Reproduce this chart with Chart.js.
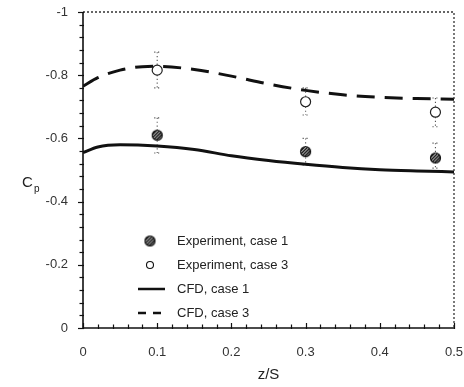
<!DOCTYPE html>
<html>
<head>
<meta charset="utf-8">
<script src="https://cdn.jsdelivr.net/npm/chart.js@4.4.0/dist/chart.umd.min.js"></script>
<style>
  html, body { margin: 0; padding: 0; background: #fff; }
  #wrap { width: 464px; height: 387px; position: relative; }
</style>
</head>
<body>
<div id="wrap"><canvas id="cpChart" width="464" height="387"></canvas></div>
<script>
// CFD curves
const cfd1X = [0, 0.02, 0.05, 0.1, 0.15, 0.2, 0.25, 0.3, 0.35, 0.4, 0.45, 0.5];
const cfd1Y = [-0.555, -0.573, -0.58, -0.576, -0.565, -0.545, -0.53, -0.518, -0.508, -0.501, -0.497, -0.494];
const cfd3X = [0, 0.02, 0.05, 0.08, 0.1, 0.15, 0.2, 0.25, 0.3, 0.35, 0.4, 0.45, 0.5];
const cfd3Y = [-0.765, -0.792, -0.816, -0.827, -0.828, -0.818, -0.797, -0.772, -0.752, -0.738, -0.730, -0.726, -0.724];

// experiments
const expX = [0.1, 0.3, 0.475];
const exp1Y = [-0.61, -0.558, -0.538];
const exp1Top = [-0.665, -0.60, -0.585];
const exp1Bot = [-0.554, -0.516, -0.506];
const exp3Y = [-0.816, -0.716, -0.683];
const exp3Top = [-0.873, -0.76, -0.728];
const exp3Bot = [-0.76, -0.674, -0.637];

const xTicks = [0, 0.1, 0.2, 0.3, 0.4, 0.5];
const yTicks = [-1, -0.8, -0.6, -0.4, -0.2, 0];
const legendLabels = ['Experiment, case 1', 'Experiment, case 3', 'CFD, case 1', 'CFD, case 3'];

const FONT = '"Liberation Sans", Arial, sans-serif';

// hatched marker for case 1
function hatchedMarker() {
    const c = document.createElement('canvas');
    c.width = 13; c.height = 13;
    const g = c.getContext('2d');
    g.save();
    g.beginPath();
    g.arc(6.5, 6.5, 5, 0, Math.PI * 2);
    g.fillStyle = '#fff';
    g.fill();
    g.clip();
    g.strokeStyle = '#111';
    g.lineWidth = 1.6;
    for (let k = -12; k <= 12; k += 3.2) {
        g.beginPath();
        g.moveTo(k, 13);
        g.lineTo(k + 13, 0);
        g.stroke();
    }
    g.restore();
    g.beginPath();
    g.arc(6.5, 6.5, 5, 0, Math.PI * 2);
    g.strokeStyle = '#111';
    g.lineWidth = 1.2;
    g.stroke();
    return c;
}
const hatch = hatchedMarker();

const toPts = (xs, ys) => xs.map((x, i) => ({ x: x, y: ys[i] }));

// dotted error bars, frame, minor ticks, legend and titles
const decorPlugin = {
    id: 'decor',
    beforeDatasetsDraw(chart) {
        const ctx = chart.ctx;
        const xs = chart.scales.x, ys = chart.scales.y;
        ctx.save();
        ctx.strokeStyle = '#555';
        ctx.lineWidth = 1.1;
        ctx.setLineDash([1.2, 2.6]);
        [[exp1Top, exp1Bot], [exp3Top, exp3Bot]].forEach(([top, bot]) => {
            expX.forEach((x, i) => {
                const px = xs.getPixelForValue(x);
                const y1 = ys.getPixelForValue(top[i]);
                const y2 = ys.getPixelForValue(bot[i]);
                ctx.beginPath();
                ctx.moveTo(px, y1);
                ctx.lineTo(px, y2);
                ctx.stroke();
                [y1, y2].forEach(yy => {
                    ctx.beginPath();
                    ctx.moveTo(px - 3, yy);
                    ctx.lineTo(px + 3, yy);
                    ctx.stroke();
                });
            });
        });
        ctx.restore();
    },
    afterDraw(chart) {
        const ctx = chart.ctx;
        const a = chart.chartArea;
        const xs = chart.scales.x, ys = chart.scales.y;
        ctx.save();
        // dotted top and right frame
        ctx.strokeStyle = '#333';
        ctx.lineWidth = 1.3;
        ctx.setLineDash([2, 2]);
        ctx.beginPath();
        ctx.moveTo(a.left, a.top);
        ctx.lineTo(a.right, a.top);
        ctx.lineTo(a.right, a.bottom);
        ctx.stroke();
        ctx.setLineDash([]);
        // solid left and bottom axes
        ctx.strokeStyle = '#111';
        ctx.lineWidth = 1.6;
        ctx.beginPath();
        ctx.moveTo(a.left, a.top);
        ctx.lineTo(a.left, a.bottom);
        ctx.lineTo(a.right, a.bottom);
        ctx.stroke();
        // ticks
        ctx.lineWidth = 1.2;
        for (let i = 0; i <= 25; i++) {
            const py = Math.round(ys.getPixelForValue(-1 + i * 0.04)) + 0.5;
            const len = (i % 5 === 0) ? 5 : 3.5;
            ctx.beginPath();
            ctx.moveTo(a.left - len, py);
            ctx.lineTo(a.left + 1, py);
            ctx.stroke();
        }
        for (let i = 0; i <= 25; i++) {
            const px = Math.round(xs.getPixelForValue(i * 0.02)) + 0.5;
            const len = (i % 5 === 0) ? 5 : 3.5;
            ctx.beginPath();
            ctx.moveTo(px, a.bottom + 1);
            ctx.lineTo(px, a.bottom - len);
            ctx.stroke();
        }
        // axis titles
        ctx.fillStyle = '#222';
        ctx.font = '15px ' + FONT;
        ctx.textAlign = 'center';
        ctx.textBaseline = 'middle';
        ctx.fillText('z/S', (a.left + a.right) / 2, 375);
        ctx.textAlign = 'left';
        ctx.fillText('C', 22, 183);
        ctx.font = '10px ' + FONT;
        ctx.fillText('p', 34, 189);
        // legend
        const rowY = [241, 265, 289, 313];
        const mx = 150;
        ctx.font = '13px ' + FONT;
        ctx.textBaseline = 'middle';
        ctx.fillStyle = '#222';
        legendLabels.forEach((t, i) => ctx.fillText(t, 177, rowY[i]));
        ctx.drawImage(hatch, mx - 6.5, rowY[0] - 6.5);
        ctx.beginPath();
        ctx.arc(mx, rowY[1], 3.5, 0, Math.PI * 2);
        ctx.strokeStyle = '#111';
        ctx.lineWidth = 1.1;
        ctx.stroke();
        ctx.lineWidth = 2.5;
        ctx.beginPath();
        ctx.moveTo(138, rowY[2]);
        ctx.lineTo(165, rowY[2]);
        ctx.stroke();
        ctx.setLineDash([8, 7]);
        ctx.beginPath();
        ctx.moveTo(138, rowY[3]);
        ctx.lineTo(165, rowY[3]);
        ctx.stroke();
        ctx.restore();
    }
};

const ctx = document.getElementById('cpChart').getContext('2d');
const cpChart = new Chart(ctx, {
    type: 'scatter',
    data: {
        datasets: [
            {
                label: 'CFD, case 1',
                data: toPts(cfd1X, cfd1Y),
                showLine: true,
                borderColor: '#111',
                borderWidth: 3,
                pointRadius: 0,
                cubicInterpolationMode: 'monotone',
                fill: false
            },
            {
                label: 'CFD, case 3',
                data: toPts(cfd3X, cfd3Y),
                showLine: true,
                borderColor: '#111',
                borderWidth: 3,
                borderDash: [18, 10],
                pointRadius: 0,
                cubicInterpolationMode: 'monotone',
                fill: false
            },
            {
                label: 'Experiment, case 1',
                data: toPts(expX, exp1Y),
                pointStyle: hatch,
                pointRadius: 6
            },
            {
                label: 'Experiment, case 3',
                data: toPts(expX, exp3Y),
                pointStyle: 'circle',
                pointRadius: 5,
                backgroundColor: '#fff',
                borderColor: '#222',
                borderWidth: 1.2
            }
        ]
    },
    options: {
        responsive: false,
        animation: false,
        layout: { padding: { left: 0, right: 10, top: 12, bottom: 0 } },
        plugins: {
            legend: { display: false },
            tooltip: { enabled: false }
        },
        scales: {
            x: {
                type: 'linear',
                min: 0,
                max: 0.5,
                afterBuildTicks: s => { s.ticks = xTicks.map(v => ({ value: v })); },
                afterFit: s => { s.height = 59; s.paddingLeft = 0; s.paddingRight = 0; },
                grid: { display: false, drawTicks: false },
                border: { display: false },
                ticks: {
                    color: '#333',
                    padding: 17,
                    font: { family: FONT, size: 13 },
                    callback: v => String(v)
                }
            },
            y: {
                type: 'linear',
                min: -1,
                max: 0,
                reverse: true,
                afterBuildTicks: s => { s.ticks = yTicks.map(v => ({ value: v })); },
                afterFit: s => { s.width = 83; s.paddingTop = 0; s.paddingBottom = 0; },
                grid: { display: false, drawTicks: false },
                border: { display: false },
                ticks: {
                    color: '#333',
                    padding: 15,
                    font: { family: FONT, size: 13 },
                    callback: v => String(v)
                }
            }
        }
    },
    plugins: [decorPlugin]
});
</script>
</body>
</html>
